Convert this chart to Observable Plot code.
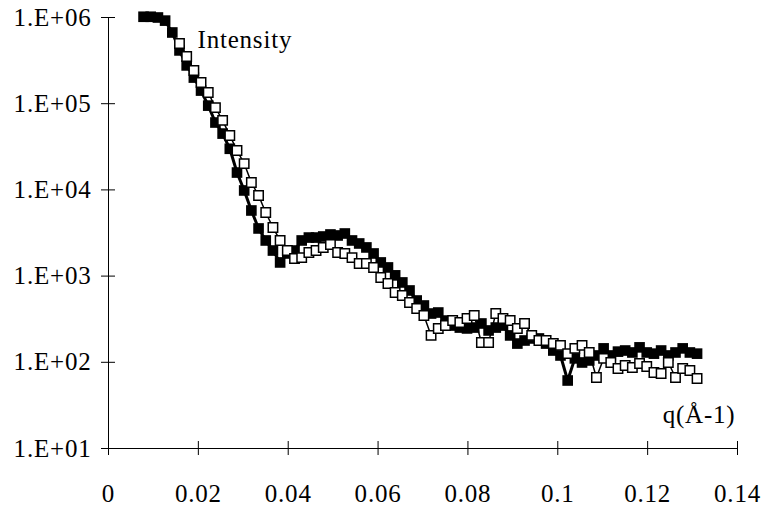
<!DOCTYPE html>
<html><head><meta charset="utf-8">
<script src="https://cdn.jsdelivr.net/npm/d3@7"></script>
<script src="https://cdn.jsdelivr.net/npm/@observablehq/plot@0.6"></script>
<style>
body{margin:0;background:#fff;}
#chart svg{display:block;}
#chart svg, #chart svg text { font-family: "Liberation Serif", "Times New Roman", serif !important; }
</style></head><body><div id="chart"></div>
<script>
// q values (Å-1)
const q = [
  0.0078, 0.0094, 0.0110, 0.0126, 0.0142, 0.0158, 0.0174, 0.0190, 0.0206, 0.0222,
  0.0238, 0.0254, 0.0270, 0.0286, 0.0302, 0.0318, 0.0334, 0.0350, 0.0366, 0.0382,
  0.0398, 0.0414, 0.0430, 0.0446, 0.0462, 0.0478, 0.0494, 0.0510, 0.0526, 0.0542,
  0.0558, 0.0574, 0.0590, 0.0606, 0.0622, 0.0638, 0.0654, 0.0670, 0.0686, 0.0702,
  0.0718, 0.0734, 0.0750, 0.0766, 0.0782, 0.0798, 0.0814, 0.0830, 0.0846, 0.0862,
  0.0878, 0.0894, 0.0910, 0.0926, 0.0942, 0.0958, 0.0974, 0.0990, 0.1006, 0.1022,
  0.1038, 0.1054, 0.1070, 0.1086, 0.1102, 0.1118, 0.1134, 0.1150, 0.1166, 0.1182,
  0.1198, 0.1214, 0.1230, 0.1246, 0.1262, 0.1278, 0.1294, 0.1310
];
// Intensity, filled-square series
const filledI = [
  1.02e6, 1.02e6, 1.0e6, 9.2e5, 6.7e5, 4.15e5, 2.78e5, 2.01e5, 1.42e5, 9.5e4,
  6.05e4, 4.5e4, 3.0e4, 1.59e4, 9850, 5770, 3570, 2590, 1980, 1440,
  1830, 1980, 2590, 2800, 2800, 2880, 3040, 2960, 3120, 2590,
  2390, 2150, 1830, 1440, 1260, 1020, 844, 681, 521, 456,
  368, 378, 305, 267, 253, 247, 253, 282, 234, 253,
  267, 205, 165, 179, 189, 189, 165, 137, 120, 61.5,
  111, 99.5, 105, 120, 145, 120, 133, 137, 130, 149,
  130, 126, 137, 120, 130, 145, 130, 126
];
// Intensity, open-square series
const openI = [
  null, null, null, null, null, 5.0e5, 3.53e5, 2.43e5, 1.76e5, 1.35e5,
  9.0e4, 6.4e4, 4.28e4, 2.87e4, 2.02e4, 1.22e4, 8600, 5470, 3660, 2590,
  1980, 1600, 1640, 1880, 1980, 2150, 2330, 1880, 1830, 1640,
  1400, 1400, 1260, 964, 821, 645, 595, 494, 421, 349,
  205, 247, 267, 305, 290, 322, 349, 170, 170, 368,
  322, 305, 247, 282, 205, 179, 179, 165, 157, 126,
  145, 157, 130, 66.7, 111, 99.5, 84.7, 91.8, 87.1, 96.9,
  89.4, 76.2, 74.2, 99.5, 66.7, 84.7, 80.3, 64.9
];
const yTicks = [10, 100, 1000, 10000, 100000, 1000000];
const yTickLabels = ["1.E+01", "1.E+02", "1.E+03", "1.E+04", "1.E+05", "1.E+06"];
const xTicks = [0, 0.02, 0.04, 0.06, 0.08, 0.1, 0.12, 0.14];
const xTickLabels = ["0", "0.02", "0.04", "0.06", "0.08", "0.1", "0.12", "0.14"];
const yTitle = "Intensity";
const xTitle = "q(Å-1)";

const rows = q.map((v, i) => ({q: v, filled: filledI[i], open: openI[i]}));
const openRows = rows.filter(d => d.open != null);

const chart = Plot.plot({
  width: 765, height: 511,
  marginLeft: 108, marginRight: 28, marginTop: 17, marginBottom: 63,
  style: {fontSize: "25px", background: "#fff", color: "#000", letterSpacing: "0.8px", overflow: "visible"},
  x: {domain: [0, 0.14]},
  y: {type: "log", domain: [10, 1e6]},
  marks: [
    Plot.ruleX([0], {stroke: "#000", strokeWidth: 1}),
    Plot.ruleY([10], {stroke: "#000", strokeWidth: 1}),
    Plot.axisY({ticks: yTicks, tickFormat: d => yTickLabels[yTicks.indexOf(d)], tickSize: 14, dx: 7, tickPadding: 10, label: null}),
    Plot.axisX({ticks: xTicks, tickFormat: d => xTickLabels[xTicks.indexOf(d)], tickSize: 14, dy: -7, tickPadding: 29, label: null, fontSize: 25}),
    Plot.line(rows, {x: "q", y: "filled", stroke: "#000", strokeWidth: 3}),
    Plot.dot(rows, {x: "q", y: "filled", symbol: "square", r: 6, fill: "#000", stroke: "none"}),
    Plot.line(openRows, {x: "q", y: "open", stroke: "#000", strokeWidth: 1.5}),
    Plot.dot(openRows, {x: "q", y: "open", symbol: "square", r: 5.3, fill: "#fff", stroke: "#000", strokeWidth: 1.5}),
    Plot.text([yTitle], {text: d => d, frameAnchor: "top-left", textAnchor: "start", dx: 89, dy: 13}),
    Plot.text([xTitle], {text: d => d, frameAnchor: "bottom-right", textAnchor: "end", dx: -2, dy: -26})
  ]
});
document.getElementById("chart").appendChild(chart);
</script>
</body></html>
